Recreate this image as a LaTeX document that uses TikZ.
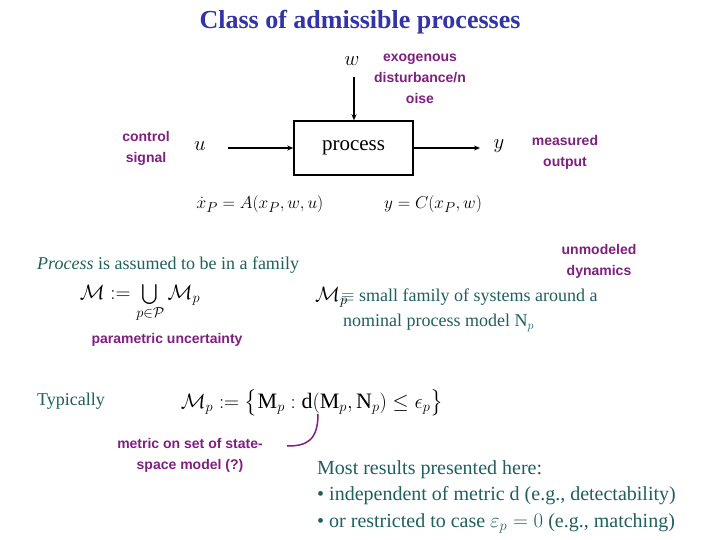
\documentclass[tikz,border=0pt]{standalone}
\usepackage{fontspec}
\usepackage{amsmath,amssymb}
\setmainfont{Liberation Serif}
\newfontfamily\lsans{Liberation Sans}
\definecolor{ttl}{HTML}{3333AA}
\definecolor{teal2}{HTML}{1F5F5F}
\definecolor{purp}{HTML}{7F1F7F}
\usetikzlibrary{arrows.meta}
\tikzset{
  lbl/.style={text=purp,font=\lsans\bfseries\fontsize{14}{21}\selectfont,align=center,inner sep=0},
  txt/.style={text=teal2,font=\fontsize{18}{26}\selectfont,inner sep=0},
  eq/.style={font=\fontsize{19}{22}\selectfont,inner sep=0},
  arr/.style={line width=1.5pt,-{Stealth[length=6pt,width=5pt]}}
}
\begin{document}
\begin{tikzpicture}[x=1pt,y=-1pt]
\useasboundingbox (0,0) rectangle (720,540);
\node[text=ttl,font=\bfseries\fontsize{26}{30}\selectfont] (title) at (360,22) {Class of admissible processes};
\node[eq,font=\fontsize{22}{24}\selectfont] (w) at (352,61) {$w$};
\node[lbl] (exo) at (420,79) {exogenous\\disturbance/n\\oise};
\node[draw,line width=1.5pt,minimum width=119pt,minimum height=54pt,inner sep=0,font=\fontsize{21}{24}\selectfont] (proc) at (353.5,148) {process};
\coordinate (wtop) at (354,77);
\draw[arr] (wtop) -- (proc.north -| wtop);
\node[eq,font=\fontsize{22}{24}\selectfont] (u) at (200,146) {$u$};
\coordinate (uend) at (228,148);
\draw[arr] (uend) -- (proc.west |- uend);
\node[eq,font=\fontsize{22}{24}\selectfont] (y) at (499,146) {$y$};
\coordinate (yend) at (480,148);
\draw[arr] (proc.east |- yend) -- (yend);
\node[lbl] (cs) at (146,148) {control\\signal};
\node[lbl] (mo) at (565,152) {measured\\output};
\node[eq] (eq1) at (260,204) {$\dot x_P = A(x_P,w,u)$};
\node[eq] (eq2) at (433,204) {$y = C(x_P,w)$};
\node[txt,anchor=west] (fam) at (37,265) {\textit{Process} is assumed to be in a family};
\node[eq,font=\fontsize{20}{22}\selectfont] (union) at (140,303) {$\mathcal M := \bigcup\limits_{p\in\mathcal P}\mathcal M_p$};
\node[lbl] (pu) at (167,340) {parametric uncertainty};
\node[lbl] (ud) at (599,261) {unmodeled\\dynamics};
\node[eq,anchor=west,font=\fontsize{20}{22}\selectfont] (mp) at (315,297) {$\mathcal M_p$};
\node[txt,anchor=west] (sf) at (341,297) {$\equiv$ small family of systems around a};
\node[txt,anchor=west] (np) at (343,323) {nominal process model N$_p$};
\node[txt,anchor=west] (typ) at (37,401) {Typically};
\node[eq,font=\fontsize{22}{24}\selectfont] (mdef) at (312,403) {$\mathcal M_p := \bigl\{\mathrm M_p : \mathrm d(\mathrm M_p,\mathrm N_p)\le \epsilon_p\bigr\}$};
\node[lbl,align=center] (met) at (190,455) {metric on set of state-\\space model (?)};
\coordinate (dpt) at (318,414);
\draw[purp,line width=1.5pt] (287,446) .. controls (305,446) and (318,442) .. (dpt);
\node[txt,anchor=west,align=left,font=\fontsize{20}{26.5}\selectfont] (most) at (317,497) {Most results presented here:\\ \textbullet\ independent of metric d (e.g., detectability)\\ \textbullet\ or restricted to case $\varepsilon_p = 0$ (e.g., matching)};
\end{tikzpicture}
\end{document}
